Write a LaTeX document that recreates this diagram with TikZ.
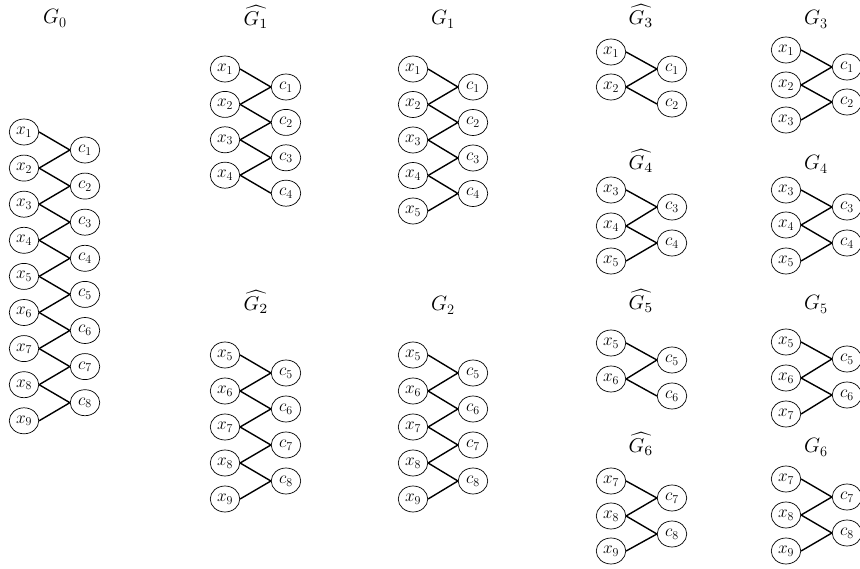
\documentclass[tikz,border=0pt]{standalone}
\usepackage{graphicx}
\usetikzlibrary{shapes.geometric}
\newcommand{\hatG}[1]{\scalebox{2}{\fontsize{10}{10}\selectfont$\widehat{G_{#1}}$}}
\tikzset{
  vx/.style={draw, line width=0.7pt, ellipse, minimum width=29.5pt, minimum height=26pt, inner sep=0pt, font=\fontsize{17.5}{17.5}\selectfont},
  ed/.style={line width=1.4pt},
  lbl/.style={anchor=base, inner sep=0pt, font=\fontsize{20}{20}\selectfont}
}
\begin{document}
\begin{tikzpicture}[x=1pt,y=-1pt]
\useasboundingbox (0,0) rectangle (860,569);

% ---------- G0 ----------
\node[lbl] (lg0) at (55,24) {$G_0$};
\foreach \i in {1,...,9} \node[vx] (ax\i) at (24,{132+36.1*(\i-1)}) {$x_{\i}$};
\foreach \j in {1,...,8} \node[vx] (ac\j) at (85,{150+36.1*(\j-1)}) {$c_{\j}$};
\foreach \j [evaluate=\j as \k using int(\j+1)] in {1,...,8}
  \draw[ed] (ax\j.east) -- (ac\j.west) (ax\k.east) -- (ac\j.west);

% ---------- hat G1 ----------
\node[lbl] (lb) at (256,26) {\hatG{1}};
\foreach \i in {1,...,4} \node[vx] (bx\i) at (225,{69+35.4*(\i-1)}) {$x_{\i}$};
\foreach \j in {1,...,4} \node[vx] (bc\j) at (286,{87+35.4*(\j-1)}) {$c_{\j}$};
\foreach \j [evaluate=\j as \k using int(\j+1)] in {1,...,3}
  \draw[ed] (bx\j.east) -- (bc\j.west) (bx\k.east) -- (bc\j.west);
\draw[ed] (bx4.east) -- (bc4.west);

% ---------- G1 ----------
\node[lbl] (ld) at (443,25) {$G_1$};
\foreach \i in {1,...,5} \node[vx] (dx\i) at (413,{69+35.5*(\i-1)}) {$x_{\i}$};
\foreach \j in {1,...,4} \node[vx] (dc\j) at (473,{87+35.5*(\j-1)}) {$c_{\j}$};
\foreach \j [evaluate=\j as \k using int(\j+1)] in {1,...,4}
  \draw[ed] (dx\j.east) -- (dc\j.west) (dx\k.east) -- (dc\j.west);

% ---------- hat G2 ----------
\node[lbl] (le) at (256,311) {\hatG{2}};
\foreach \i in {5,...,9} \node[vx] (ex\i) at (225,{355+36*(\i-5)}) {$x_{\i}$};
\foreach \j in {5,...,8} \node[vx] (ec\j) at (286,{373+36*(\j-5)}) {$c_{\j}$};
\foreach \j [evaluate=\j as \k using int(\j+1)] in {5,...,8}
  \draw[ed] (ex\j.east) -- (ec\j.west) (ex\k.east) -- (ec\j.west);

% ---------- G2 ----------
\node[lbl] (lf) at (443,311) {$G_2$};
\foreach \i in {5,...,9} \node[vx] (fx\i) at (413,{355+36*(\i-5)}) {$x_{\i}$};
\foreach \j in {5,...,8} \node[vx] (fc\j) at (473,{373+36*(\j-5)}) {$c_{\j}$};
\foreach \j [evaluate=\j as \k using int(\j+1)] in {5,...,8}
  \draw[ed] (fx\j.east) -- (fc\j.west) (fx\k.east) -- (fc\j.west);

% ---------- hat G3 ----------
\node[lbl] (lg) at (641,25) {\hatG{3}};
\node[vx] (gx1) at (611,52) {$x_1$};
\node[vx] (gx2) at (611,87) {$x_2$};
\node[vx] (gc1) at (672,69) {$c_1$};
\node[vx] (gc2) at (672,104) {$c_2$};
\draw[ed] (gx1.east) -- (gc1.west) (gx2.east) -- (gc1.west) (gx2.east) -- (gc2.west);

% ---------- G3 ----------
\node[lbl] (lh) at (816,25) {$G_3$};
\node[vx] (hx1) at (786,50) {$x_1$};
\node[vx] (hx2) at (786,85) {$x_2$};
\node[vx] (hx3) at (786,120) {$x_3$};
\node[vx] (hc1) at (847,67) {$c_1$};
\node[vx] (hc2) at (847,102) {$c_2$};
\draw[ed] (hx1.east) -- (hc1.west) (hx2.east) -- (hc1.west) (hx2.east) -- (hc2.west) (hx3.east) -- (hc2.west);

% ---------- hat G4 ----------
\node[lbl] (li) at (641,170) {\hatG{4}};
\node[vx] (ix3) at (611,190) {$x_3$};
\node[vx] (ix4) at (611,226) {$x_4$};
\node[vx] (ix5) at (611,261) {$x_5$};
\node[vx] (ic3) at (672,207) {$c_3$};
\node[vx] (ic4) at (672,243) {$c_4$};
\draw[ed] (ix3.east) -- (ic3.west) (ix4.east) -- (ic3.west) (ix4.east) -- (ic4.west) (ix5.east) -- (ic4.west);

% ---------- G4 ----------
\node[lbl] (lk) at (816,170) {$G_4$};
\node[vx] (kx3) at (786,190) {$x_3$};
\node[vx] (kx4) at (786,225) {$x_4$};
\node[vx] (kx5) at (786,261) {$x_5$};
\node[vx] (kc3) at (847,207) {$c_3$};
\node[vx] (kc4) at (847,243) {$c_4$};
\draw[ed] (kx3.east) -- (kc3.west) (kx4.east) -- (kc3.west) (kx4.east) -- (kc4.west) (kx5.east) -- (kc4.west);

% ---------- hat G5 ----------
\node[lbl] (lm) at (641,310) {\hatG{5}};
\node[vx] (mx5) at (611,343) {$x_5$};
\node[vx] (mx6) at (611,379) {$x_6$};
\node[vx] (mc5) at (672,360) {$c_5$};
\node[vx] (mc6) at (672,396) {$c_6$};
\draw[ed] (mx5.east) -- (mc5.west) (mx6.east) -- (mc5.west) (mx6.east) -- (mc6.west);

% ---------- G5 ----------
\node[lbl] (ln) at (816,310) {$G_5$};
\node[vx] (nx5) at (786,342) {$x_5$};
\node[vx] (nx6) at (786,378) {$x_6$};
\node[vx] (nx7) at (786,414) {$x_7$};
\node[vx] (nc5) at (847,359) {$c_5$};
\node[vx] (nc6) at (847,395) {$c_6$};
\draw[ed] (nx5.east) -- (nc5.west) (nx6.east) -- (nc5.west) (nx6.east) -- (nc6.west) (nx7.east) -- (nc6.west);

% ---------- hat G6 ----------
\node[lbl] (lp) at (641,453) {\hatG{6}};
\node[vx] (px7) at (611,481) {$x_7$};
\node[vx] (px8) at (611,516) {$x_8$};
\node[vx] (px9) at (611,551) {$x_9$};
\node[vx] (pc7) at (672,498) {$c_7$};
\node[vx] (pc8) at (672,534) {$c_8$};
\draw[ed] (px7.east) -- (pc7.west) (px8.east) -- (pc7.west) (px8.east) -- (pc8.west) (px9.east) -- (pc8.west);

% ---------- G6 ----------
\node[lbl] (lq) at (816,453) {$G_6$};
\node[vx] (qx7) at (786,479) {$x_7$};
\node[vx] (qx8) at (786,515) {$x_8$};
\node[vx] (qx9) at (786,551) {$x_9$};
\node[vx] (qc7) at (847,497) {$c_7$};
\node[vx] (qc8) at (847,533) {$c_8$};
\draw[ed] (qx7.east) -- (qc7.west) (qx8.east) -- (qc7.west) (qx8.east) -- (qc8.west) (qx9.east) -- (qc8.west);
\end{tikzpicture}
\end{document}
